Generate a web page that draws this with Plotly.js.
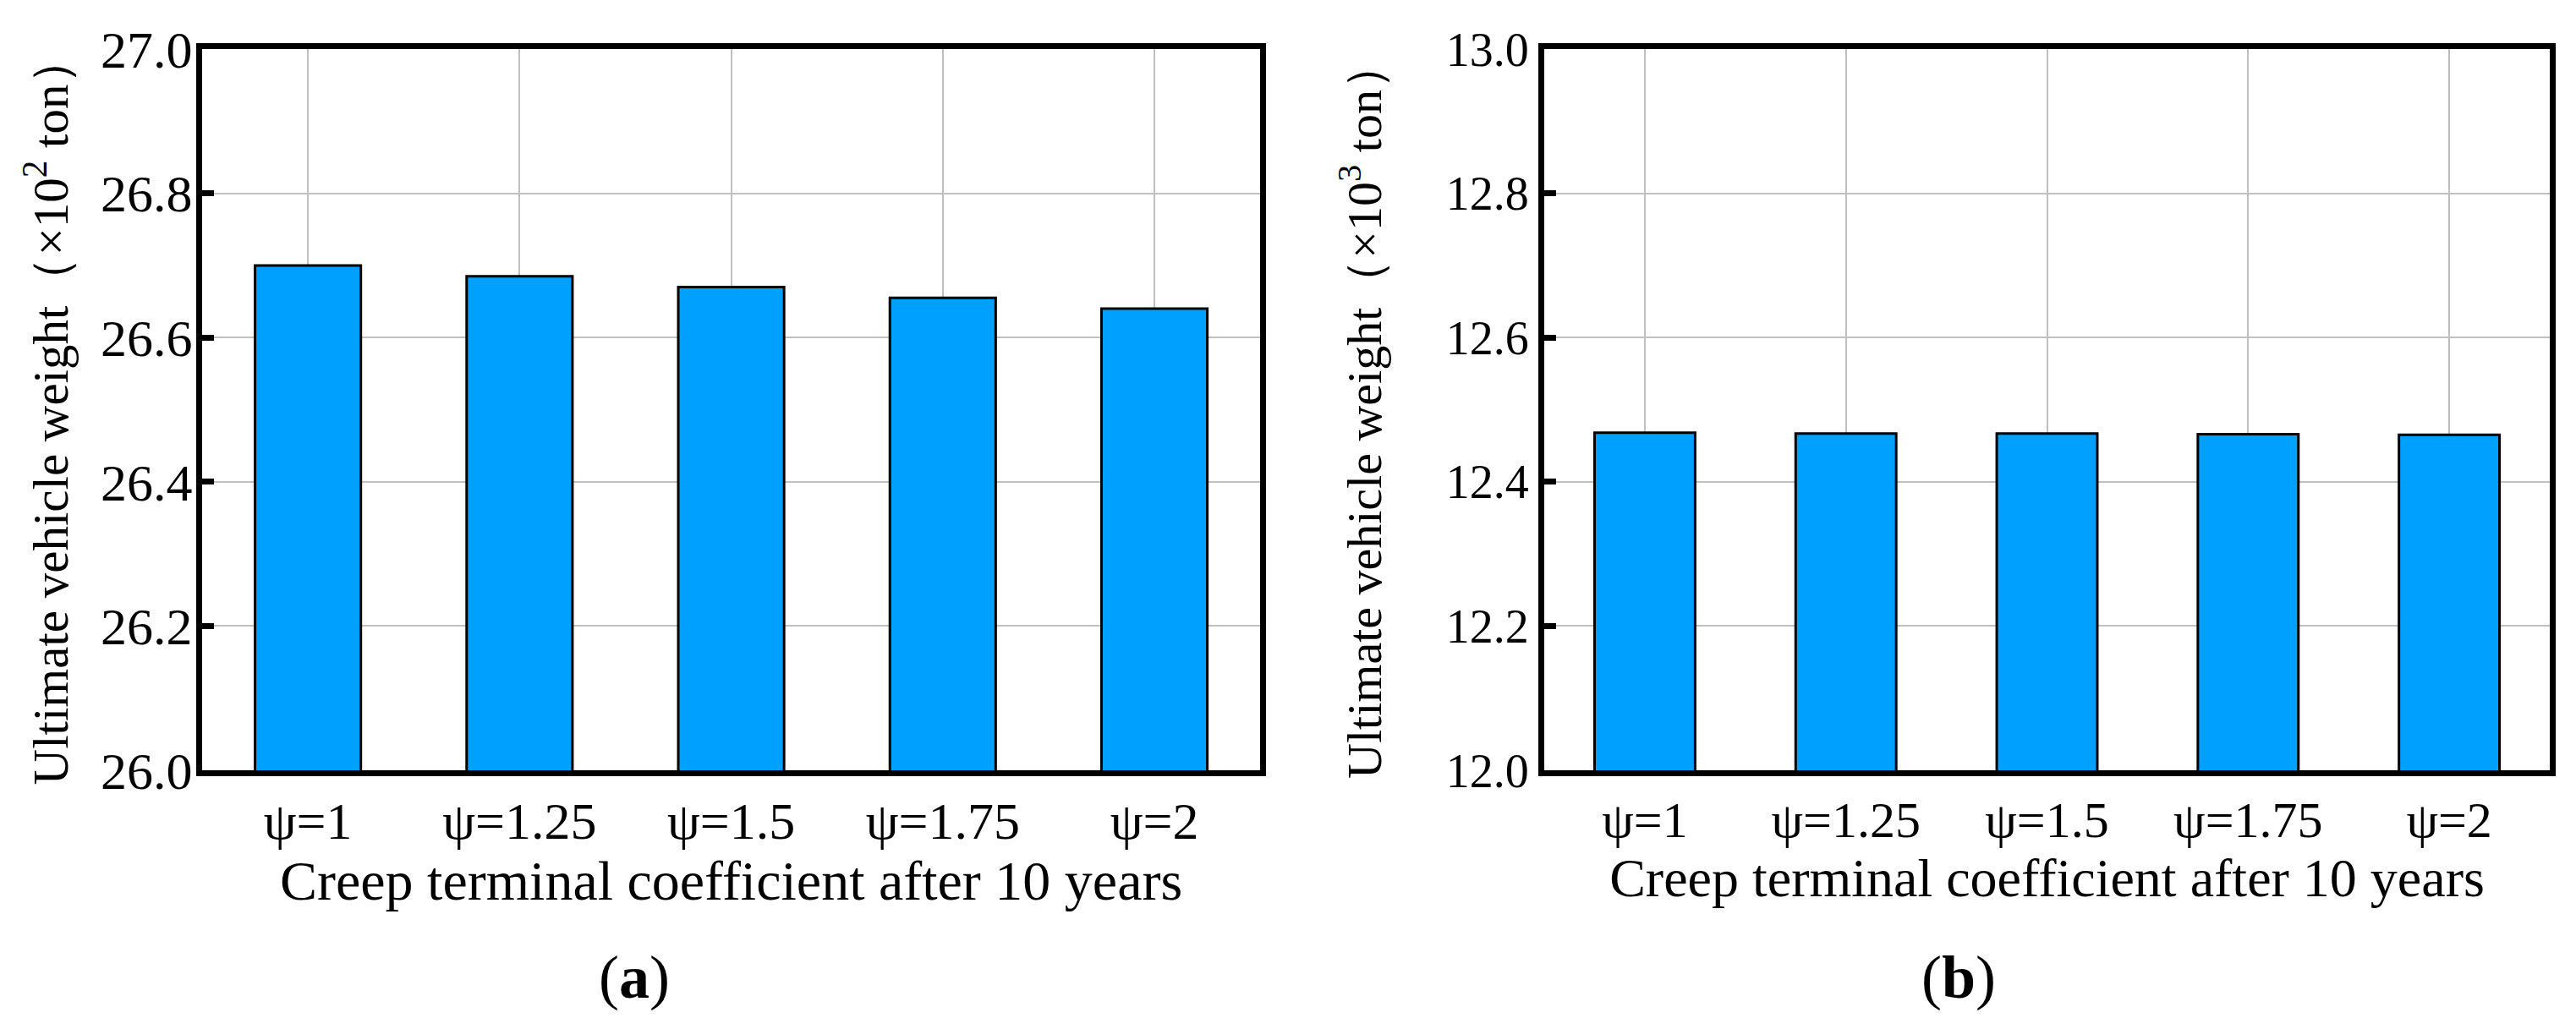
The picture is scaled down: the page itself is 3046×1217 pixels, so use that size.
<!DOCTYPE html>
<html>
<head>
<meta charset="utf-8">
<script src="https://cdn.plot.ly/plotly-3.0.1.min.js"></script>
<style>html,body{margin:0;padding:0;background:#fff;}#chart{width:3046px;height:1217px;}</style>
</head>
<body>
<div id="chart"></div>
<script>
const categories = ['ψ=1', 'ψ=1.25', 'ψ=1.5', 'ψ=1.75', 'ψ=2'];
const weightA = [26.70, 26.685, 26.67, 26.655, 26.64];   // ×10^2 ton
const weightB = [12.468, 12.467, 12.467, 12.466, 12.465]; // ×10^3 ton
const yRangeA = [26.0, 27.0];
const yRangeB = [12.0, 13.0];
const xTitle = 'Creep terminal coefficient after 10 years';
const yTitleA = 'Ultimate vehicle weight（×10<sup>2</sup> ton）';
const yTitleB = 'Ultimate vehicle weight（×10<sup>3</sup> ton）';
const panelLabels = ['(<b>a</b>)', '(<b>b</b>)'];

const FONT = 'Liberation Serif, Times New Roman, serif';
const barColor = '#00A0FF';

function barTrace(y, xa, ya) {
  return {
    type: 'bar', x: categories, y: y, xaxis: xa, yaxis: ya,
    marker: {color: barColor, line: {color: '#000', width: 3}},
    hoverinfo: 'x+y', showlegend: false
  };
}

function xAxis(domain, anchor, tickSize, titleSize) {
  return {
    domain: domain, anchor: anchor, type: 'category', range: [-0.5, 4.5],
    showgrid: true, gridcolor: '#c0c0c0', gridwidth: 2,
    showline: true, mirror: true, linecolor: '#000', linewidth: 7,
    ticks: '', zeroline: false, ticklabelstandoff: 0,
    tickfont: {family: FONT, size: tickSize, color: '#000'},
    title: {text: xTitle, font: {family: FONT, size: titleSize, color: '#000'}, standoff: 12}
  };
}

function yAxis(range, anchor, title, tickSize, titleSize, standoff, labelStandoff) {
  return {
    anchor: anchor, range: range, dtick: 0.2, tick0: range[0], tickformat: '.1f',
    showgrid: true, gridcolor: '#c0c0c0', gridwidth: 2,
    showline: true, mirror: true, linecolor: '#000', linewidth: 7,
    ticks: 'inside', ticklen: 14, tickwidth: 7, tickcolor: '#000',
    zeroline: false, ticklabelstandoff: labelStandoff,
    tickfont: {family: FONT, size: tickSize, color: '#000'},
    title: {text: title, font: {family: FONT, size: titleSize, color: '#000'}, standoff: standoff}
  };
}

const data = [barTrace(weightA, 'x', 'y'), barTrace(weightB, 'x2', 'y2')];

const layout = {
  width: 3046, height: 1217,
  margin: {l: 239, r: 31, t: 58, b: 306},
  paper_bgcolor: '#fff', plot_bgcolor: '#fff',
  bargap: 0.5,
  font: {family: FONT, color: '#000'},
  xaxis: xAxis([0, 0.4507], 'y', 62, 66),
  yaxis: yAxis(yRangeA, 'x', yTitleA, 62, 59, 22, -8),
  xaxis2: xAxis([0.5717, 1], 'y2', 60, 64),
  yaxis2: yAxis(yRangeB, 'x2', yTitleB, 56, 58, 60, 0),
  annotations: [
    {text: panelLabels[0], xref: 'paper', yref: 'paper', x: (750 - 239) / 2776, y: -(1156 - 911) / 853,
     xanchor: 'center', yanchor: 'middle', showarrow: false, font: {family: FONT, size: 72, color: '#000'}},
    {text: panelLabels[1], xref: 'paper', yref: 'paper', x: (2316 - 239) / 2776, y: -(1156 - 911) / 853,
     xanchor: 'center', yanchor: 'middle', showarrow: false, font: {family: FONT, size: 72, color: '#000'}}
  ]
};

Plotly.newPlot('chart', data, layout, {displayModeBar: false, staticPlot: true});
</script>
</body>
</html>
